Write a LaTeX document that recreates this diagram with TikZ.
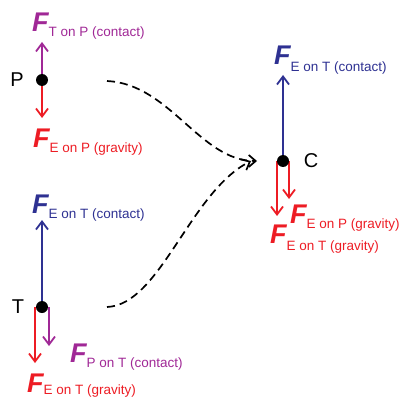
\documentclass[tikz,border=0pt]{standalone}
\usepackage{fontspec}
\setmainfont{Liberation Sans}
\usetikzlibrary{arrows.meta}
\definecolor{fpurple}{RGB}{160,40,150}
\definecolor{fred}{RGB}{237,28,36}
\definecolor{fblue}{RGB}{46,49,146}
\newcommand{\Flab}[2]{{\fontsize{27}{27}\selectfont\bfseries\itshape F}\raisebox{-#2pt}{\fontsize{13.5}{14}\selectfont #1}}
\begin{document}
\begin{tikzpicture}[x=1pt,y=-1pt,
  force/.style={line width=1.8pt,-{Straight Barb[length=8pt,width=12pt,line width=1.8pt]}},
  dot/.style={circle,fill=black,inner sep=0pt,minimum size=12pt},
  body/.style={font=\fontsize{20}{20}\selectfont,inner sep=0pt},
  flab/.style={anchor=base west,inner sep=0pt},
  link/.style={line width=1.7pt,dash pattern=on 8pt off 5pt,-{Straight Barb[length=7pt,width=12pt,line width=1.7pt]}}]
\useasboundingbox (0,0) rectangle (401,401);
% tips
\coordinate (p1) at (42,42);
\coordinate (p2) at (42,118);
\coordinate (c1) at (283,75);
\coordinate (c2s) at (277,161);
\coordinate (c2) at (277,216);
\coordinate (c3s) at (289,161);
\coordinate (c3) at (289,199);
\coordinate (t1) at (42,220);
\coordinate (t2s) at (35,307);
\coordinate (t2) at (35,363);
\coordinate (t3s) at (49,307);
\coordinate (t3) at (49,346);
% forces (drawn under dots)
\draw[force,fpurple] (42,80) -- (p1);
\draw[force,fred] (42,80) -- (p2);
\draw[force,fblue] (283,161) -- (c1);
\draw[force,fred] (c2s) -- (c2);
\draw[force,fred] (c3s) -- (c3);
\draw[force,fblue] (42,307) -- (t1);
\draw[force,fred] (t2s) -- (t2);
\draw[force,fpurple] (t3s) -- (t3);
% dots
\node[dot] (P) at (42,80) {};
\node[dot] (C) at (283,161) {};
\node[dot] (T) at (42,307) {};
\node[body] (Pl) at (17,80) {P};
\node[body] (Cl) at (311,161) {C};
\node[body] (Tl) at (18,307) {T};
% labels
\node[flab,text=fpurple] (L1) at (32,32) {\Flab{T on P (contact)}{5}};
\node[flab,text=fred] (L2) at (33,147) {\Flab{E on P (gravity)}{5}};
\node[flab,text=fblue] (L3) at (274,65) {\Flab{E on T (contact)}{7}};
\node[flab,text=fred] (L4) at (290,223) {\Flab{E on P (gravity)}{5}};
\node[flab,text=fred] (L5) at (270,243) {\Flab{E on T (gravity)}{7}};
\node[flab,text=fblue] (L6) at (32,213) {\Flab{E on T (contact)}{5}};
\node[flab,text=fpurple] (L7) at (70,362) {\Flab{P on T (contact)}{5}};
\node[flab,text=fred] (L8) at (27,392) {\Flab{E on T (gravity)}{2}};
% links
\coordinate (s1) at (107,81);
\coordinate (s2) at (107,307);
\coordinate (e1) at (257,161);
\coordinate (e2) at (251,161);
\draw[link] (s1) .. controls (170,84) and (200,161) .. (e1);
\draw[link] (s2) .. controls (160,305) and (190,192) .. (e2);
\end{tikzpicture}
\end{document}
